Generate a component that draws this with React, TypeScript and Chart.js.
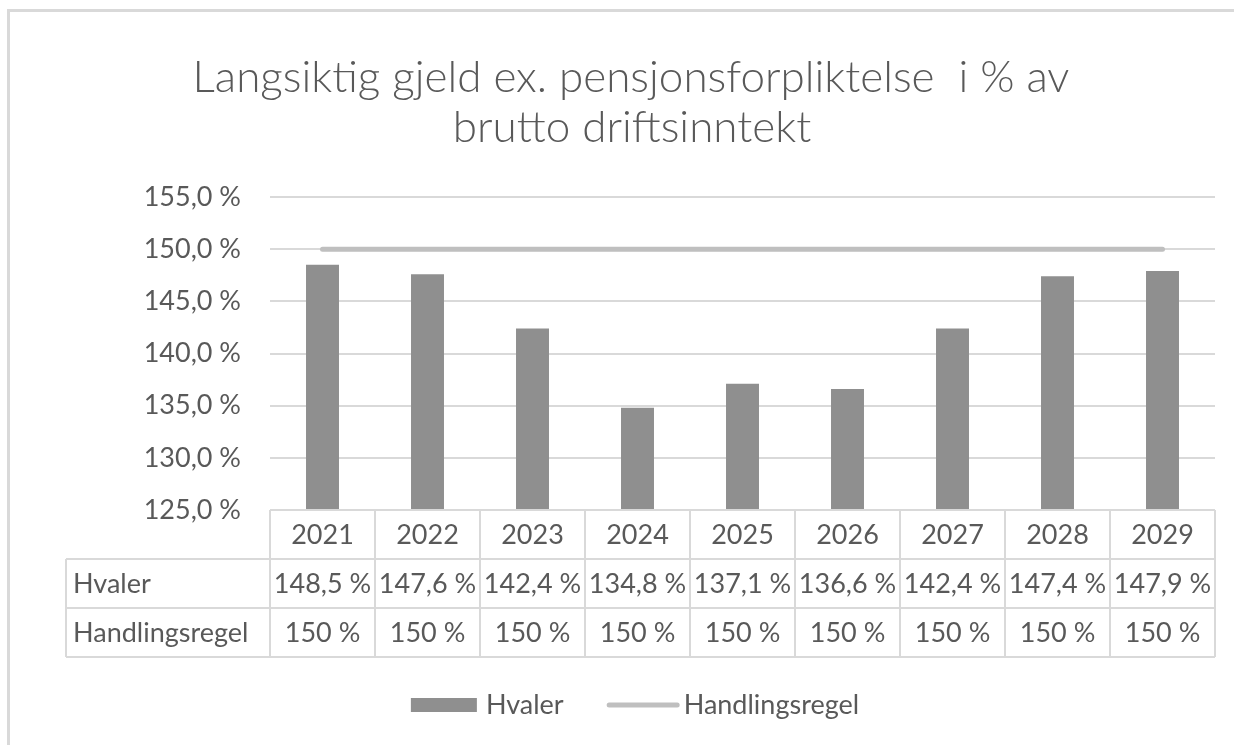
import React, { useEffect, useRef } from "react";
import { Chart, registerables } from "chart.js";

Chart.register(...registerables);

// ---- data ----
const years = ["2021", "2022", "2023", "2024", "2025", "2026", "2027", "2028", "2029"];
const hvaler = [148.5, 147.6, 142.4, 134.8, 137.1, 136.6, 142.4, 147.4, 147.9];
const handlingsregel = [150, 150, 150, 150, 150, 150, 150, 150, 150];
const seriesNames = ["Hvaler", "Handlingsregel"];
const titleLines = ["Langsiktig gjeld ex. pensjonsforpliktelse  i % av", "brutto driftsinntekt"];
const yMin = 125;
const yMax = 155;
const yStep = 5;

// ---- styles ----
const TEXT = "#595959";
const GRID = "#d9d9d9";
const BAR = "#8f8f8f";
const LINE = "#bfbfbf";
const FONT = "Lato";
const FS = 27;

const fmt1 = (v: number) => v.toFixed(1).replace(".", ",") + " %";
const fmt0 = (v: number) => Math.round(v) + " %";

const overlayPlugin = {
  id: "overlay",
  afterDraw(chart: any) {
    const ctx = chart.ctx as CanvasRenderingContext2D;
    const area = chart.chartArea;
    const xs = chart.scales.x;
    const n = years.length;
    const colW = (area.right - area.left) / n;
    const top = area.bottom;
    const rowH = 49;
    const r1 = top + rowH;
    const r2 = r1 + rowH;
    const r3 = r2 + rowH;
    const labelLeft = 66;

    ctx.save();
    // outer chart border
    ctx.fillStyle = GRID;
    ctx.fillRect(7, 9, chart.width - 7, 3);
    ctx.fillRect(7, 9, 3, chart.height - 11);

    // title
    ctx.fillStyle = TEXT;
    ctx.textAlign = "center";
    ctx.textBaseline = "middle";
    ctx.font = `300 44px ${FONT}`;
    ctx.fillText(titleLines[0], 631, 78);
    ctx.fillText(titleLines[1], 632, 128);

    // table grid
    ctx.strokeStyle = GRID;
    ctx.lineWidth = 2;
    const seg = (x1: number, y1: number, x2: number, y2: number) => {
      ctx.beginPath();
      ctx.moveTo(x1, y1);
      ctx.lineTo(x2, y2);
      ctx.stroke();
    };
    seg(area.left, top, area.right, top);
    seg(labelLeft, r1, area.right, r1);
    seg(labelLeft, r2, area.right, r2);
    seg(labelLeft, r3, area.right, r3);
    seg(labelLeft, r1, labelLeft, r3);
    for (let i = 0; i < n; i++) {
      const cx = xs.getPixelForValue(i);
      seg(cx - colW / 2, top, cx - colW / 2, r3);
      if (i === n - 1) seg(cx + colW / 2, top, cx + colW / 2, r3);
    }

    // table text
    ctx.fillStyle = TEXT;
    ctx.font = `${FS}px ${FONT}`;
    ctx.textBaseline = "middle";
    ctx.textAlign = "center";
    for (let i = 0; i < n; i++) {
      const cx = xs.getPixelForValue(i);
      ctx.fillText(years[i], cx, (top + r1) / 2 + 1);
      ctx.fillText(fmt1(hvaler[i]), cx, (r1 + r2) / 2 + 1);
      ctx.fillText(fmt0(handlingsregel[i]), cx, (r2 + r3) / 2 + 1);
    }
    ctx.textAlign = "left";
    ctx.fillText(seriesNames[0], labelLeft + 7, (r1 + r2) / 2 + 1);
    ctx.fillText(seriesNames[1], labelLeft + 7, (r2 + r3) / 2 + 1);

    // legend
    const ly = 705;
    const w1 = ctx.measureText(seriesNames[0]).width;
    const w2 = ctx.measureText(seriesNames[1]).width;
    const total = 66 + 9 + w1 + 43 + 73 + 4 + w2;
    let lx = 635 - total / 2;
    ctx.fillStyle = BAR;
    ctx.fillRect(lx, ly - 7, 66, 14);
    lx += 66 + 9;
    ctx.fillStyle = TEXT;
    ctx.fillText(seriesNames[0], lx, ly);
    lx += w1 + 43;
    ctx.strokeStyle = LINE;
    ctx.lineWidth = 5;
    ctx.lineCap = "round";
    seg(lx + 2.5, ly, lx + 70.5, ly);
    lx += 73 + 4;
    ctx.fillStyle = TEXT;
    ctx.fillText(seriesNames[1], lx, ly);
    ctx.restore();
  },
};

export default function App() {
  const ref = useRef<HTMLCanvasElement | null>(null);
  useEffect(() => {
    if (!ref.current) return;
    const chart = new Chart(ref.current, {
      type: "bar",
      data: {
        labels: years,
        datasets: [
          {
            type: "line",
            label: seriesNames[1],
            data: handlingsregel,
            borderColor: LINE,
            backgroundColor: LINE,
            borderWidth: 5,
            borderCapStyle: "round",
            pointRadius: 0,
            pointHoverRadius: 0,
            order: 0,
          } as any,
          {
            type: "bar",
            label: seriesNames[0],
            data: hvaler,
            backgroundColor: BAR,
            barPercentage: 0.314,
            categoryPercentage: 1,
            order: 1,
          } as any,
        ],
      },
      options: {
        responsive: false,
        animation: false,
        layout: { padding: { top: 197, left: 0, right: 19, bottom: 237 } },
        plugins: {
          legend: { display: false },
          title: { display: false },
          tooltip: { enabled: false },
        },
        scales: {
          x: { display: false },
          y: {
            min: yMin,
            max: yMax,
            afterFit: (s: any) => {
              s.width = 270;
            },
            border: { display: false },
            grid: { color: GRID, lineWidth: 2, drawTicks: false },
            ticks: {
              stepSize: yStep,
              padding: 29,
              color: TEXT,
              font: { family: FONT, size: FS },
              callback: (v: any) => fmt1(Number(v)),
            },
          },
        },
      },
      plugins: [overlayPlugin],
    });
    return () => chart.destroy();
  }, []);
  return (
    <div style={{ position: "absolute", left: 0, top: 0, width: 1234, height: 747, background: "#fff" }}>
      <canvas ref={ref} width={1234} height={747} />
    </div>
  );
}
